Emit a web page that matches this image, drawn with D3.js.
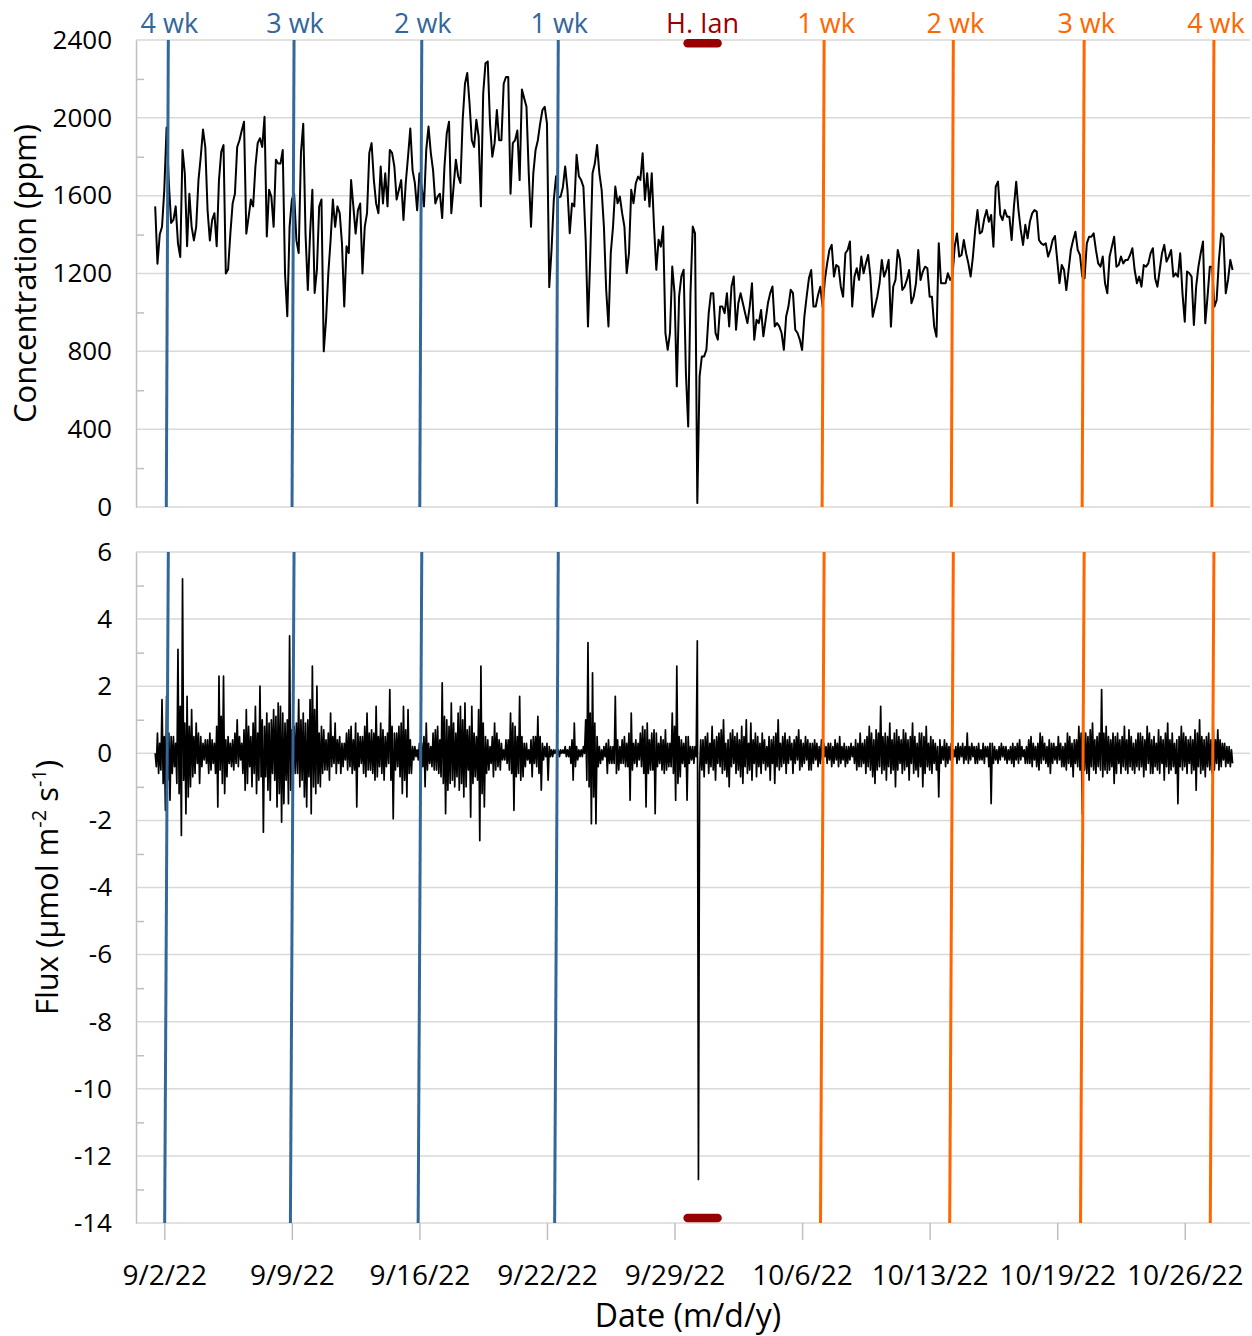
<!DOCTYPE html>
<html>
<head>
<meta charset="utf-8">
<script src="https://cdn.jsdelivr.net/npm/d3@7"></script>
<style>
  body { margin: 0; background: #fff; }
  text { font-family: "Open Sans", sans-serif; }
</style>
</head>
<body>
<script>
// x axis: days since 9/2/22, labels as printed on the chart
const tickDays = [0, 7, 14, 21, 28, 35, 42, 49, 56];
const tickLabels = ["9/2/22", "9/9/22", "9/16/22", "9/22/22", "9/29/22", "10/6/22", "10/13/22", "10/19/22", "10/26/22"];

// both records start at day -0.5
const startDay = -0.5;
const concStepHours = 3;
const fluxStepHours = 1.5;

// CO2 concentration (ppm), one value every 3 h
const conc = [
  1545,1250,1400,1440,1630,1950,1665,1460,1475,1545,
  1355,1285,1835,1715,1340,1610,1440,1370,1440,1680,
  1800,1940,1850,1525,1370,1475,1510,1340,1680,1825,
  1860,1200,1220,1405,1560,1610,1850,1885,1935,1980,
  1405,1490,1580,1545,1750,1870,1895,1850,2005,1390,
  1630,1595,1440,1785,1765,1765,1835,1200,980,1440,
  1580,1610,1370,1305,1820,1970,1405,1115,1405,1630,
  1100,1220,1545,1580,800,960,1200,1370,1580,1440,
  1545,1510,1355,1030,1340,1305,1680,1545,1405,1525,
  1560,1200,1440,1510,1820,1870,1680,1560,1510,1750,
  1560,1715,1545,1835,1820,1750,1580,1630,1680,1475,
  1665,1800,1945,1730,1665,1525,1715,1645,1545,1835,
  1955,1820,1730,1560,1595,1610,1485,1750,1920,1980,
  1510,1645,1785,1700,1665,1990,2175,2230,2075,1885,
  1850,1990,1905,1545,2125,2280,2290,1970,1800,1870,
  2040,1885,1885,2175,2210,2210,1610,1870,1885,1935,
  1680,2145,2100,2057,1715,1440,1715,1835,1885,1970,
  2040,2057,1972,1130,1321,1578,1700,1590,1595,1645,
  1750,1630,1407,1560,1545,1810,1700,1680,1645,1373,
  928,1287,1715,1765,1860,1715,1630,1440,1115,928,
  1304,1441,1647,1561,1595,1510,1441,1202,1304,1630,
  1561,1664,1698,1681,1818,1578,1715,1544,1715,1441,
  1219,1373,1338,1441,894,808,894,1236,1099,620,
  1082,1185,1219,688,414,1099,1441,1407,20,671,
  774,774,808,996,1099,1099,894,860,1030,1030,
  996,1099,928,1133,1185,911,1047,1099,1047,996,
  945,1030,1150,860,962,945,1013,877,962,1047,
  1099,1133,928,945,928,894,808,979,1030,1116,
  1099,911,894,860,807,978,1081,1175,1218,1030,
  1030,1090,1132,1030,1167,1252,1321,1347,1184,1244,
  1235,1132,1081,1304,1321,1364,1030,1184,1227,1167,
  1287,1201,1252,1295,1184,978,1030,1081,1150,1270,
  1184,1218,1270,927,1132,1167,1321,1270,1115,1132,
  1167,1218,1047,1081,1150,1321,1167,1210,1235,1227,
  1081,1081,927,875,1355,1150,1150,1150,1201,1167,
  1184,1338,1406,1287,1295,1372,1304,1252,1184,1287,
  1424,1526,1406,1415,1483,1526,1466,1501,1338,1646,
  1672,1501,1475,1526,1492,1492,1372,1544,1672,1526,
  1424,1347,1450,1381,1466,1509,1526,1518,1372,1355,
  1347,1355,1287,1321,1372,1393,1270,1150,1244,1218,
  1115,1218,1321,1372,1415,1321,1295,1184,1175,1355,
  1389,1389,1406,1321,1252,1235,1287,1150,1098,1287,
  1338,1389,1235,1244,1287,1252,1270,1270,1295,1330,
  1218,1150,1184,1132,1244,1235,1252,1304,1330,1175,
  1132,1218,1304,1347,1261,1287,1321,1184,1201,1184,
  1304,1098,952,1210,1201,1184,935,1132,1235,1304,
  1364,944,1081,1235,1235,1030,1064,1270,1406,1389,
  1098,1167,1270,1218
];

// CO2 flux (umol m-2 s-1), one value every 1.5 h, one day per row
const flux = [
  0.0,-0.4,0.6,-0.6,0.3,-0.5,1.6,-0.9,0.5,-1.7,1.7,-0.8,0.6,-1.4,0.5,-0.6,
  0.5,-0.4,0.3,-0.9,3.1,-1.2,1.4,-2.45,5.2,-0.8,0.9,-1.8,1.7,-1.3,0.8,-1.0,
  1.3,-0.7,0.5,-0.6,0.9,-0.3,0.6,-0.9,0.5,-0.4,0.3,-0.2,0.4,-0.3,0.4,-0.6,
  0.6,-0.5,0.4,-0.3,0.3,-0.6,0.8,-1.6,2.3,-0.5,1.1,-0.9,2.3,-1.2,0.4,-0.7,
  0.5,-0.3,0.3,-0.4,0.4,-0.5,0.6,-0.3,1.0,-0.4,0.5,-0.2,0.3,-0.6,0.7,-1.1,
  1.3,-0.9,0.8,-0.4,0.5,-1.0,0.9,-0.6,1.4,-1.2,0.6,-0.8,2.0,-0.7,1.0,-2.35,
  0.8,-0.7,1.2,-1.1,0.9,-1.4,1.0,-0.6,1.3,-0.8,1.1,-1.6,1.5,-1.2,1.4,-2.05,
  1.2,-1.5,0.9,-0.8,1.0,-1.5,3.5,-1.1,0.7,-0.9,0.8,-0.6,0.9,-0.6,1.6,-1.0,
  1.0,-0.8,1.2,-1.3,0.9,-1.6,1.0,-0.7,1.6,-1.8,2.6,-1.0,1.3,-1.2,2.0,-0.9,
  0.6,-1.0,0.8,-0.6,0.7,-0.5,0.4,-0.5,0.6,-0.8,1.2,-0.4,0.5,-0.3,0.9,-0.6,
  0.4,-0.3,0.5,-0.6,0.3,-0.4,0.3,-0.2,0.6,-0.5,0.7,-0.4,0.8,-0.6,0.4,-0.5,
  0.9,-1.6,0.6,-0.4,0.5,-0.3,0.5,-0.6,0.8,-0.7,1.2,-0.5,0.6,-0.5,0.7,-0.6,
  0.6,-0.8,1.4,-0.7,0.5,-0.4,0.9,-0.6,0.7,-0.8,0.5,-0.4,0.6,-0.3,1.9,-0.8,
  0.8,-1.95,0.6,-0.5,0.6,-0.4,0.8,-0.7,0.9,-1.2,1.4,-0.8,0.7,-1.3,1.3,-0.6,
  0.4,-0.6,0.2,-0.2,0.2,-0.1,0.1,-0.2,0.3,-0.6,0.3,-0.4,0.5,-1.0,0.9,-0.5,
  0.3,-0.3,0.2,-0.4,0.6,-0.5,0.7,-0.5,0.8,-0.6,0.4,-0.7,2.1,-0.9,1.1,-1.8,
  1.0,-1.1,0.8,-0.9,1.5,-0.8,0.9,-1.0,0.6,-0.7,1.2,-1.1,1.4,-0.9,1.0,-1.3,
  1.5,-1.0,0.7,-0.5,0.8,-1.9,1.4,-0.9,0.6,-0.7,0.5,-0.8,1.3,-2.6,2.6,-1.2,
  0.9,-1.6,0.5,-0.6,0.4,-0.5,0.2,-0.3,0.5,-0.7,0.9,-0.5,0.6,-0.4,0.4,-0.5,
  0.3,-0.2,0.1,-0.2,0.4,-0.3,0.4,-0.5,1.2,-0.6,0.9,-1.7,0.8,-0.7,0.5,-0.6,
  1.7,-0.8,0.5,-0.7,0.3,-0.4,0.3,-0.2,0.1,-0.3,0.4,-0.7,0.5,-0.3,0.5,-0.4,
  1.1,-0.6,0.5,-1.1,0.3,-0.2,0.2,-0.1,0.3,-0.8,0.2,-0.1,0.1,-0.1,0.1,0.0,
  0.1,-0.1,0.1,-0.1,0.1,0.0,0.1,0.0,0.2,-0.1,0.1,-0.1,0.2,-0.3,0.4,-0.8,
  0.9,-0.4,0.2,-0.2,0.1,-0.1,0.1,-0.1,0.2,0.0,1.0,-0.8,3.3,-1.0,1.2,-2.1,
  2.4,-1.3,0.9,-2.1,0.5,-0.4,0.2,-0.3,0.1,-0.2,0.2,-0.1,0.3,-0.6,0.4,-0.3,
  0.2,-0.3,0.2,-0.3,1.7,-0.6,0.4,-0.5,0.2,-0.3,0.4,-0.3,0.5,-0.4,0.3,-0.4,
  0.6,-1.4,1.2,-0.5,0.3,-0.3,0.4,-0.4,0.3,-0.2,0.6,-0.4,0.8,-0.6,0.7,-1.6,
  0.9,-0.6,0.4,-0.5,0.6,-0.5,0.7,-1.8,0.6,-0.4,0.3,-0.3,0.5,-0.5,0.4,-0.6,
  0.7,-0.5,0.3,-0.4,0.3,-0.4,1.2,-0.6,0.8,-1.4,2.6,-0.9,0.5,-0.7,0.4,-0.3,
  0.3,-0.4,0.5,-1.4,0.5,-0.3,0.2,-0.2,0.2,-0.3,0.2,-0.1,3.35,-12.7,-0.6,0.4,
  -0.5,0.4,-0.7,0.5,-0.3,0.6,-0.6,0.3,-0.4,0.8,-0.5,0.4,-0.8,0.5,-0.3,0.6,
  -0.4,0.7,-0.6,1.0,-0.5,0.3,-0.7,0.4,-1.0,0.6,-0.4,0.7,-0.3,0.5,-0.6,0.6,
  -0.5,0.4,-0.7,0.8,-0.9,0.5,-0.4,1.0,-0.6,0.3,-0.5,0.9,-0.8,0.4,-0.3,0.6,
  -0.7,0.5,-0.4,0.3,-0.6,0.6,-0.3,0.4,-0.5,0.2,-0.4,0.5,-0.8,0.4,-0.3,0.5,
  -0.9,0.6,-0.4,1.0,-0.5,0.3,-0.4,0.5,-0.3,0.6,-0.6,0.4,-0.3,0.5,-0.2,0.3,
  -0.6,0.4,-0.3,0.5,-0.2,0.7,-0.5,0.4,-0.4,0.3,-0.3,0.5,-0.2,0.4,-0.5,0.3,
  -0.5,0.3,-0.3,0.4,-0.2,0.3,-0.4,0.2,-0.3,0.4,-0.2,0.3,-0.1,0.2,-0.3,0.3,
  -0.2,0.3,-0.4,0.2,-0.3,0.4,-0.2,0.3,-0.4,0.5,-0.3,0.2,-0.2,0.3,-0.4,0.2,
  -0.3,0.2,-0.2,0.3,-0.1,0.2,-0.3,0.4,-0.5,0.3,-0.4,0.6,-0.4,0.3,-0.3,0.4,
  -0.6,0.5,-0.4,0.8,-0.5,0.6,-0.7,0.4,-0.9,0.7,-0.5,0.6,-0.4,1.4,-0.6,0.5,
  -0.5,0.6,-0.8,0.5,-0.4,0.9,-0.6,0.4,-0.5,0.6,-1.0,0.7,-0.5,0.5,-0.3,0.4,
  -0.6,0.7,-0.5,0.6,-0.4,0.4,-0.8,0.5,-0.3,0.9,-0.6,0.5,-0.5,0.3,-0.7,0.6,
  -0.4,0.6,-1.0,0.5,-0.6,0.8,-0.4,0.3,-0.5,0.5,-0.6,0.4,-0.3,0.3,-0.5,0.2,
  -1.3,0.4,-0.3,0.2,-0.2,0.4,-0.4,0.3,-0.3,0.2,-0.2,0.3,-0.2,0.1,-0.1,0.2,
  -0.3,0.3,-0.2,0.2,-0.1,0.3,-0.3,0.2,-0.2,0.6,-0.3,0.2,-0.2,0.3,-0.1,0.2,
  -0.3,0.2,-0.3,0.3,-0.2,0.1,-0.2,0.3,-0.3,0.2,-0.1,0.2,-0.4,0.3,-1.5,0.3,
  -0.3,0.2,-0.2,0.1,-0.3,0.2,-0.2,0.3,-0.1,0.2,-0.2,0.2,-0.3,0.1,-0.2,0.2,
  -0.3,0.3,-0.4,0.2,-0.2,0.3,-0.3,0.4,-0.2,0.2,-0.1,0.1,-0.3,0.2,-0.3,0.4,
  -0.3,0.5,-0.4,0.3,-0.2,0.2,-0.4,0.3,-0.5,0.6,-0.3,0.5,-0.2,0.3,-0.3,0.2,
  -0.4,0.4,-0.6,0.3,-0.3,0.3,-0.2,0.2,-0.3,0.5,-0.2,0.3,-0.4,0.2,-0.4,0.3,
  -0.5,0.6,-0.3,0.5,-0.4,0.3,-0.7,0.4,-0.3,0.4,-0.4,0.8,-0.5,0.6,-1.8,0.7,
  -0.5,0.6,-0.6,0.5,-0.8,0.7,-0.4,0.9,-0.5,0.4,-0.6,0.5,-0.4,0.6,-0.5,1.9,
  -0.7,0.6,-0.5,0.8,-0.6,0.5,-0.5,0.4,-0.4,0.6,-0.9,0.5,-0.6,0.6,-0.3,0.4,
  -0.6,0.5,-0.4,0.8,-0.5,0.4,-0.6,0.7,-0.4,0.5,-0.5,0.3,-0.6,0.4,-0.4,0.6,
  -0.5,0.6,-0.4,0.5,-0.7,0.4,-0.5,0.8,-0.3,0.6,-0.6,0.4,-0.6,0.5,-0.4,0.3,
  -0.5,0.7,-0.6,0.5,-0.3,0.4,-0.8,0.6,-0.4,0.9,-0.6,0.4,-0.5,0.6,-0.4,0.3,
  -0.6,0.4,-1.5,0.5,-0.4,0.8,-0.5,0.6,-0.4,0.5,-0.6,0.4,-0.3,0.5,-0.6,0.4,
  -0.5,0.7,-1.1,0.6,-0.4,1.0,-0.6,0.5,-0.5,0.4,-0.7,0.5,-0.4,0.6,-0.5,0.4,
  -0.6,0.8,-0.5,0.4,-0.3,0.7,-0.5,0.4,-0.4,0.3,-0.2,0.3,-0.4,0.2,-0.3,0.2,
  -0.4,0.1,-0.3
];

// weeks before / after Hurricane Ian (day of each marker)
const preLabels = ["4 wk", "3 wk", "2 wk", "1 wk"];
const preDays = [0.22, 7.12, 14.13, 21.62];
const postLabels = ["1 wk", "2 wk", "3 wk", "4 wk"];
const postDays = [36.21, 43.3, 50.48, 57.6];
const ianLabel = "H. Ian";
const ianDays = [28.72, 30.36];

const concTicks = [0, 400, 800, 1200, 1600, 2000, 2400];
const fluxTicks = [6, 4, 2, 0, -2, -4, -6, -8, -10, -12, -14];

const blue = "#336699", orange = "#ff6600", ianRed = "#990000";
const gridColor = "#d9d9d9", axisColor = "#bfbfbf";

const width = 1252, height = 1336;
const svg = d3.select("body").append("svg")
    .attr("width", width)
    .attr("height", height);

const x = d3.scaleLinear().domain([-1.553, 59.58]).range([136, 1250]);
const yC = d3.scaleLinear().domain([0, 2400]).range([507, 40]);
const yF = d3.scaleLinear().domain([-14, 6]).range([1223, 552]);

function drawPanel(y, ticks, minorStep, values, stepHours, strokeW, lean, ianValue) {
    const [y0, y1] = y.range();

    // horizontal gridlines
    svg.append("g")
        .selectAll("line")
        .data(ticks)
        .join("line")
        .attr("x1", x.range()[0]).attr("x2", x.range()[1])
        .attr("y1", d => y(d)).attr("y2", d => y(d))
        .attr("stroke", gridColor)
        .attr("stroke-width", 1.5);

    // minor ticks, drawn inside the plot
    const [lo, hi] = y.domain();
    const minor = d3.range(lo, hi + 0.001, minorStep).filter(v => !ticks.includes(v));
    svg.append("g")
        .attr("transform", `translate(${x.range()[0]},0)`)
        .call(d3.axisRight(y).tickValues(minor).tickSize(8).tickFormat(""))
        .call(g => g.select(".domain").remove())
        .call(g => g.selectAll("line").attr("stroke", axisColor).attr("stroke-width", 1.5));

    // left axis with labels
    svg.append("g")
        .attr("transform", `translate(${x.range()[0]},0)`)
        .call(d3.axisLeft(y).tickValues(ticks).tickSize(0).tickPadding(24).tickFormat(d => String(d)))
        .call(g => g.select(".domain").attr("stroke", axisColor).attr("stroke-width", 1.5))
        .call(g => g.selectAll("text")
            .attr("font-size", 26)
            .attr("font-family", "Open Sans")
            .attr("fill", "#000"));

    // data
    const line = d3.line()
        .x((d, i) => x(startDay + i * stepHours / 24))
        .y(d => y(d));
    svg.append("path")
        .datum(values)
        .attr("d", line)
        .attr("fill", "none")
        .attr("stroke", "#000")
        .attr("stroke-width", strokeW)
        .attr("stroke-linejoin", "round");

    // week markers
    const markers = preDays.map(d => ({ d, c: blue }))
        .concat(postDays.map(d => ({ d, c: orange })));
    svg.append("g")
        .selectAll("line")
        .data(markers)
        .join("line")
        .attr("x1", m => x(m.d)).attr("y1", y1)
        .attr("x2", m => x(m.d - lean)).attr("y2", y0)
        .attr("stroke", m => m.c)
        .attr("stroke-width", 3);

    // hurricane bar
    svg.append("line")
        .attr("x1", x(ianDays[0])).attr("x2", x(ianDays[1]))
        .attr("y1", y(ianValue)).attr("y2", y(ianValue))
        .attr("stroke", ianRed)
        .attr("stroke-width", 8.5)
        .attr("stroke-linecap", "round");
}

drawPanel(yC, concTicks, 200, conc, concStepHours, 2, 0.11, 2383);
drawPanel(yF, fluxTicks, 1, flux, fluxStepHours, 1.7, 0.2, -13.85);

// bottom date axis
svg.append("g")
    .attr("transform", `translate(0,${yF.range()[0]})`)
    .call(d3.axisBottom(x).tickValues(tickDays)
        .tickFormat((d, i) => tickLabels[i])
        .tickSize(17).tickPadding(25))
    .call(g => g.select(".domain").remove())
    .call(g => g.selectAll("line").attr("stroke", axisColor).attr("stroke-width", 1.5))
    .call(g => g.selectAll("text")
        .attr("font-size", 28)
        .attr("font-family", "Open Sans")
        .attr("fill", "#000"));

// marker labels along the top
const topLabels = svg.append("g")
    .attr("font-size", 27)
    .attr("text-anchor", "middle");
topLabels.selectAll("text.pre")
    .data(preLabels)
    .join("text")
    .attr("class", "pre")
    .attr("x", (d, i) => x(preDays[i]) + 1)
    .attr("y", 33)
    .attr("fill", blue)
    .text(d => d);
topLabels.selectAll("text.post")
    .data(postLabels)
    .join("text")
    .attr("class", "post")
    .attr("x", (d, i) => x(postDays[i]) + 2)
    .attr("y", 33)
    .attr("fill", orange)
    .text(d => d);
topLabels.append("text")
    .attr("x", x((ianDays[0] + ianDays[1]) / 2))
    .attr("y", 33)
    .attr("fill", ianRed)
    .text(ianLabel);

// axis titles
svg.append("text")
    .attr("transform", `translate(36,${(yC.range()[0] + yC.range()[1]) / 2}) rotate(-90)`)
    .attr("text-anchor", "middle")
    .attr("font-size", 31)
    .text("Concentration (ppm)");

const fluxTitle = svg.append("text")
    .attr("transform", `translate(58,${(yF.range()[0] + yF.range()[1]) / 2}) rotate(-90)`)
    .attr("text-anchor", "middle")
    .attr("font-size", 31);
fluxTitle.append("tspan").text("Flux (µmol m");
fluxTitle.append("tspan").attr("font-size", 20).attr("dy", -12).text("-2");
fluxTitle.append("tspan").attr("dy", 12).text(" s");
fluxTitle.append("tspan").attr("font-size", 20).attr("dy", -12).text("-1");
fluxTitle.append("tspan").attr("dy", 12).text(")");

svg.append("text")
    .attr("x", (x.range()[0] + x.range()[1]) / 2 - 5)
    .attr("y", 1327)
    .attr("text-anchor", "middle")
    .attr("font-size", 32)
    .text("Date (m/d/y)");
</script>
</body>
</html>
